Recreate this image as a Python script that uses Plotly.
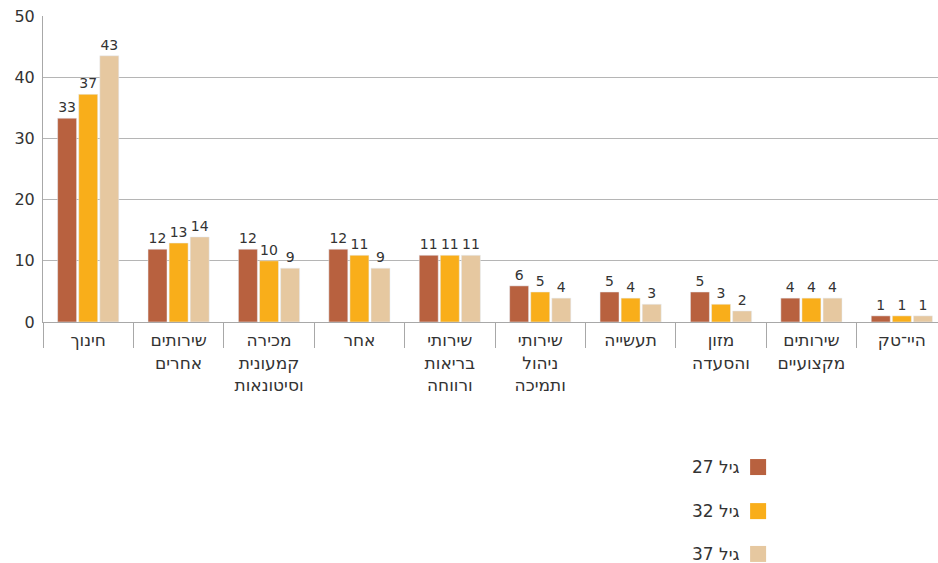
import plotly.graph_objects as go

categories = ["חינוך", "שירותים<br>אחרים", "מכירה<br>קמעונית<br>וסיטונאות", "אחר",
              "שירותי<br>בריאות<br>ורווחה", "שירותי<br>ניהול<br>ותמיכה", "תעשייה",
              "מזון<br>והסעדה", "שירותים<br>מקצועיים", "היי־טק"]
series_names = ["גיל 27", "גיל 32", "גיל 37"]
age27 = [33.3, 11.9, 11.9, 11.9, 10.9, 5.9, 4.9, 4.9, 3.9, 1.0]
age32 = [37.2, 12.9, 10.0, 10.9, 10.9, 4.9, 3.9, 2.9, 3.9, 1.0]
age37 = [43.5, 13.9, 8.8, 8.8, 10.9, 3.9, 2.9, 1.8, 3.9, 1.0]
labels27 = [33, 12, 12, 12, 11, 6, 5, 5, 4, 1]
labels32 = [37, 13, 10, 11, 11, 5, 4, 3, 4, 1]
labels37 = [43, 14, 9, 9, 11, 4, 3, 2, 4, 1]
colors = ["#B8613F", "#F9AE1A", "#E6C8A0"]

FONT = "DejaVu Sans"
TXT = "#333333"

fig = go.Figure()
for name, vals, labs, col in zip(series_names, [age27, age32, age37],
                                 [labels27, labels32, labels37], colors):
    fig.add_trace(go.Bar(
        x=categories, y=vals, name=name, marker_color=col,
        text=[str(v) for v in labs], textposition="outside",
        textfont=dict(family=FONT, size=14, color=TXT),
        constraintext="none", cliponaxis=False, showlegend=False,
    ))

fig.update_layout(
    width=938, height=563,
    margin=dict(l=43, r=0, t=16, b=241, autoexpand=False),
    paper_bgcolor="white", plot_bgcolor="white",
    barmode="group", bargap=0.3, bargroupgap=0.1,
    font=dict(family=FONT, size=16, color=TXT),
)
fig.update_yaxes(range=[0, 50], dtick=10, showgrid=True, gridcolor="#B5B5B5",
                 gridwidth=1, showline=True, linecolor="#A8A8A8", linewidth=1,
                 zeroline=False, ticks="", tickfont=dict(size=16, color=TXT),
                 ticklabelstandoff=4, automargin=False)
fig.update_xaxes(range=[-0.5, 9.4], showline=True, linecolor="#A8A8A8", linewidth=1,
                 ticks="outside", tickson="boundaries", ticklen=25, tickcolor="#A8A8A8",
                 tickfont=dict(size=17, color=TXT), ticklabelstandoff=3,
                 automargin=False)

# legend (text left of swatch, stacked vertically)
legend_y = [-0.474, -0.618, -0.758]
for name, col, yy in zip(series_names, colors, legend_y):
    fig.add_annotation(xref="paper", yref="paper", x=0.781, y=yy, text=name,
                       showarrow=False, xanchor="right", yanchor="middle",
                       font=dict(family=FONT, size=17, color=TXT))
    fig.add_shape(type="rect", xref="paper", yref="paper",
                  xsizemode="pixel", ysizemode="pixel",
                  xanchor=0.799, yanchor=yy, x0=-8, x1=8, y0=-8, y1=8,
                  fillcolor=col, line=dict(width=0))

fig.write_html("out.html", config={"displayModeBar": False},
               post_script="document.body.style.margin='0';document.body.style.overflow='hidden';")
